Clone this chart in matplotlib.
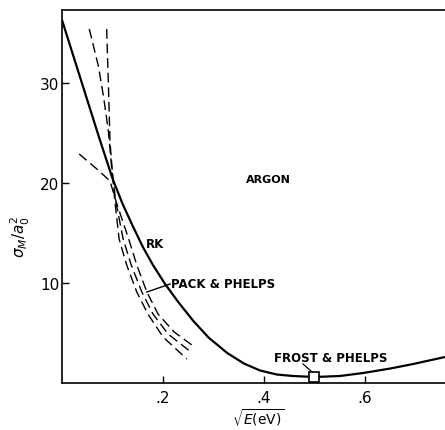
import matplotlib
matplotlib.use("Agg")
import matplotlib.pyplot as plt

# ---- data ----
rk_x = [0, 0.025, 0.05, 0.075, 0.101, 0.12, 0.14, 0.16, 0.18, 0.204, 0.23, 0.26,
        0.29, 0.327, 0.36, 0.392, 0.425, 0.457, 0.5, 0.55, 0.596, 0.65, 0.695, 0.758]
rk_y = [36.3, 32.3, 28.3, 24.3, 20.3, 17.9, 15.7, 13.6, 11.8, 9.9, 8.1, 6.2,
        4.55, 3.0, 1.95, 1.25, 0.85, 0.7, 0.6, 0.7, 1.0, 1.45, 1.9, 2.6]

# Pack & Phelps dashed curves
pp1_x = [0.0884, 0.0917, 0.095, 0.0997, 0.104, 0.113, 0.128, 0.148, 0.17, 0.20, 0.247]
pp1_y = [35.4, 30.1, 24.1, 21.1, 18.5, 14.4, 11.8, 9.1, 6.9, 4.6, 2.4]
pp2_x = [0.054, 0.072, 0.082, 0.092, 0.098, 0.106, 0.121, 0.137, 0.158, 0.18, 0.21, 0.255]
pp2_y = [35.4, 31.7, 28.7, 25.1, 21.7, 18.3, 14.4, 11.8, 9.1, 6.9, 4.9, 3.1]
pp3_x = [0.034, 0.069, 0.095, 0.108, 0.132, 0.148, 0.168, 0.19, 0.222, 0.257]
pp3_y = [22.9, 21.4, 20.2, 18.0, 14.4, 11.8, 9.1, 6.9, 5.1, 3.8]

fp_x = [0.499]
fp_y = [0.6]

xticks = [0.2, 0.4, 0.6]
xticklabels = [".2", ".4", ".6"]
yticks = [10, 20, 30]
yticklabels = ["10", "20", "30"]

plt.rcParams['font.family'] = ['DejaVu Sans']

fig = plt.figure(figsize=(4.45, 4.31), dpi=100)
W, H = 445, 431
ax = fig.add_axes([62 / W, 1 - 384 / H, (445 - 62) / W, (384 - 11) / H])

ax.plot(rk_x, rk_y, color='black', lw=1.6, solid_capstyle='butt', solid_joinstyle='round')
for xs, ys in [(pp1_x, pp1_y), (pp2_x, pp2_y), (pp3_x, pp3_y)]:
    ax.plot(xs, ys, color='black', lw=1.0, dashes=(7, 3.5))
ax.plot(fp_x, fp_y, 's', ms=7, mfc='white', mec='black', mew=1.2, zorder=5)

ax.set_xlim(0, 0.758)
ax.set_ylim(0, 37.3)
ax.set_xticks(xticks)
ax.set_xticklabels(xticklabels)
ax.set_yticks(yticks)
ax.set_yticklabels(yticklabels)
ax.tick_params(direction='in', length=5, width=1.0, labelsize=11, pad=2)
ax.tick_params(axis='x', pad=5)
for s in ['left', 'bottom', 'top']:
    ax.spines[s].set_linewidth(1.2)
ax.spines['right'].set_visible(False)

tk = dict(fontsize=8.5, fontweight='bold')
ax.text(0.408, 20.4, "ARGON", ha='center', va='center', fontsize=8, fontweight='bold')
ax.text(0.185, 13.9, "RK", ha='center', va='center', **tk)
ax.text(0.216, 9.9, "PACK & PHELPS", ha='left', va='center', **tk)
ax.plot([0.214, 0.168], [9.9, 9.1], color='black', lw=1.0)
ax.text(0.531, 2.5, "FROST & PHELPS", ha='center', va='center', **tk)
ax.plot([0.477, 0.496], [1.9, 1.05], color='black', lw=0.9)

fig.text(20 / W, 1 - 237 / H, r'$\sigma_M/a_0^2$', rotation=90, ha='center', va='center', fontsize=11)
fig.text(258 / W, 1 - 429 / H, r'$\sqrt{E(\mathrm{eV})}$', ha='center', va='bottom', fontsize=10)

fig.savefig("out.png", dpi=100)
